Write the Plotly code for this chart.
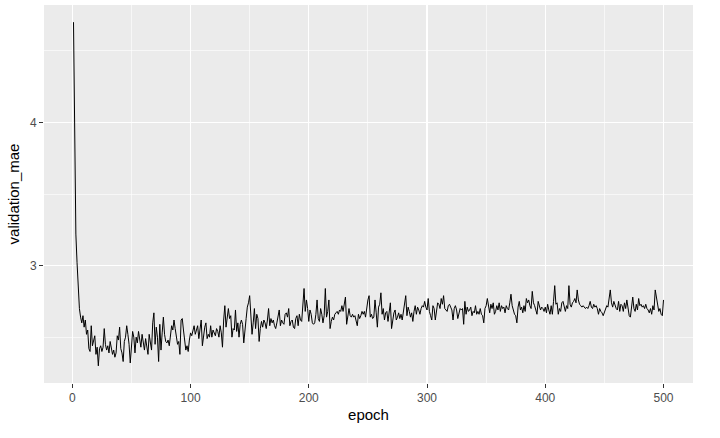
import plotly.graph_objects as go

# validation MAE per epoch
mae_001_080 = [
    4.70, 4.00, 3.22, 3.02, 2.80, 2.70, 2.64, 2.60, 2.65, 2.57,
    2.62, 2.52, 2.55, 2.42, 2.40, 2.58, 2.44, 2.48, 2.51, 2.38,
    2.43, 2.30, 2.42, 2.44, 2.40, 2.43, 2.56, 2.45, 2.41, 2.44,
    2.39, 2.47, 2.42, 2.38, 2.41, 2.36, 2.39, 2.51, 2.48, 2.57,
    2.42, 2.39, 2.33, 2.47, 2.50, 2.58, 2.52, 2.45, 2.32, 2.47,
    2.54, 2.50, 2.39, 2.50, 2.46, 2.54, 2.49, 2.43, 2.52, 2.46,
    2.41, 2.49, 2.44, 2.38, 2.52, 2.45, 2.41, 2.60, 2.67, 2.45,
    2.57, 2.50, 2.33, 2.59, 2.41, 2.53, 2.64, 2.52, 2.47, 2.46,
]
mae_081_164 = [
    2.48, 2.44, 2.50, 2.58, 2.55, 2.62, 2.56, 2.50, 2.45, 2.47,
    2.38, 2.62, 2.63, 2.55, 2.49, 2.41, 2.44, 2.40, 2.48, 2.53,
    2.51, 2.55, 2.58, 2.52, 2.56, 2.58, 2.49, 2.55, 2.62, 2.44,
    2.53, 2.57, 2.60, 2.49, 2.52, 2.50, 2.58, 2.50, 2.55, 2.53,
    2.51, 2.56, 2.54, 2.50, 2.58, 2.53, 2.43, 2.62, 2.72, 2.57,
    2.65, 2.70, 2.63, 2.65, 2.50, 2.56, 2.55, 2.69, 2.54, 2.60,
    2.50, 2.59, 2.62, 2.59, 2.46, 2.58, 2.63, 2.71, 2.74, 2.79,
    2.68, 2.52, 2.60, 2.70, 2.56, 2.66, 2.63, 2.47, 2.56, 2.61,
    2.57, 2.62, 2.60, 2.56,
]
mae_165_248 = [
    2.62, 2.70, 2.58, 2.63, 2.60, 2.62, 2.58, 2.56, 2.60, 2.66,
    2.69, 2.58, 2.62, 2.60, 2.59, 2.66, 2.67, 2.64, 2.70, 2.58,
    2.61, 2.62, 2.57, 2.56, 2.63, 2.65, 2.58, 2.66, 2.62, 2.61,
    2.72, 2.84, 2.68, 2.76, 2.70, 2.61, 2.69, 2.66, 2.60, 2.59,
    2.60, 2.66, 2.76, 2.63, 2.61, 2.70, 2.66, 2.60, 2.65, 2.84,
    2.64, 2.68, 2.76, 2.56, 2.61, 2.64, 2.62, 2.66, 2.67, 2.68,
    2.66, 2.69, 2.68, 2.72, 2.68, 2.72, 2.78, 2.59, 2.66, 2.70,
    2.65, 2.64, 2.66, 2.64, 2.65, 2.62, 2.58, 2.66, 2.63, 2.65,
    2.68, 2.66, 2.68, 2.64,
]
mae_249_330 = [
    2.72, 2.76, 2.79, 2.64, 2.66, 2.63, 2.64, 2.76, 2.67, 2.57,
    2.71, 2.73, 2.81, 2.66, 2.70, 2.62, 2.67, 2.68, 2.61, 2.66,
    2.74, 2.56, 2.62, 2.67, 2.69, 2.62, 2.64, 2.67, 2.63, 2.66,
    2.62, 2.67, 2.72, 2.79, 2.65, 2.71, 2.68, 2.64, 2.67, 2.61,
    2.68, 2.72, 2.66, 2.71, 2.69, 2.66, 2.70, 2.72, 2.71, 2.75,
    2.71, 2.69, 2.77, 2.68, 2.65, 2.62, 2.72, 2.70, 2.62, 2.68,
    2.74, 2.73, 2.70, 2.77, 2.73, 2.79, 2.70, 2.69, 2.68, 2.72,
    2.73, 2.71, 2.69, 2.62, 2.70, 2.72, 2.69, 2.63, 2.67, 2.70,
    2.69, 2.70,
]
mae_331_412 = [
    2.59, 2.75, 2.66, 2.71, 2.68, 2.69, 2.71, 2.65, 2.68, 2.67,
    2.72, 2.66, 2.68, 2.66, 2.70, 2.66, 2.65, 2.60, 2.70, 2.72,
    2.77, 2.70, 2.67, 2.73, 2.70, 2.74, 2.66, 2.68, 2.72, 2.69,
    2.74, 2.68, 2.72, 2.70, 2.71, 2.67, 2.72, 2.70, 2.69, 2.74,
    2.80, 2.72, 2.68, 2.66, 2.65, 2.60, 2.71, 2.75, 2.69, 2.71,
    2.67, 2.72, 2.68, 2.77, 2.74, 2.76, 2.72, 2.70, 2.82, 2.74,
    2.72, 2.69, 2.66, 2.75, 2.72, 2.69, 2.71, 2.70, 2.68, 2.71,
    2.67, 2.73, 2.69, 2.66, 2.72, 2.66, 2.75, 2.86, 2.73, 2.74,
    2.66, 2.70,
]
mae_413_500 = [
    2.68, 2.74, 2.75, 2.70, 2.68, 2.72, 2.70, 2.86, 2.73, 2.71,
    2.74, 2.75, 2.77, 2.74, 2.83, 2.76, 2.73, 2.72, 2.71, 2.72,
    2.71, 2.70, 2.71, 2.70, 2.72, 2.75, 2.71, 2.70, 2.73, 2.71,
    2.72, 2.70, 2.66, 2.70, 2.68, 2.67, 2.65, 2.67, 2.70, 2.72,
    2.71, 2.76, 2.83, 2.74, 2.71, 2.75, 2.72, 2.70, 2.69, 2.75,
    2.68, 2.73, 2.72, 2.68, 2.74, 2.70, 2.76, 2.68, 2.65, 2.64,
    2.73, 2.78, 2.70, 2.68, 2.73, 2.69, 2.77, 2.72, 2.73, 2.71,
    2.72, 2.70, 2.73, 2.70, 2.69, 2.67, 2.70, 2.66, 2.72, 2.69,
    2.83, 2.78, 2.72, 2.68, 2.70, 2.66, 2.65, 2.76,
]

validation_mae = (mae_001_080 + mae_081_164 + mae_165_248
                  + mae_249_330 + mae_331_412 + mae_413_500)
epoch = list(range(1, len(validation_mae) + 1))

x_ticks = [0, 100, 200, 300, 400, 500]
x_minor = [50, 150, 250, 350, 450]
y_ticks = [3, 4]
y_minor = [2.5, 3.5, 4.5]

# ggplot-like 5% expansion of the data range
xmin, xmax = min(epoch), max(epoch)
ymin, ymax = min(validation_mae), max(validation_mae)
xpad = (xmax - xmin) * 0.05
ypad = (ymax - ymin) * 0.05

FONT = "Liberation Sans, Arial, sans-serif"

fig = go.Figure()
fig.add_trace(go.Scatter(
    x=epoch, y=validation_mae, mode="lines",
    line=dict(color="black", width=1), showlegend=False,
    hoverinfo="skip",
))

axis_common = dict(
    automargin=False,
    showline=False, zeroline=False,
    showgrid=True, gridcolor="white", gridwidth=1.1,
    ticks="outside", ticklen=4, tickwidth=1, tickcolor="#333333",
    tickfont=dict(family=FONT, size=12, color="#4D4D4D"),
)

fig.update_xaxes(
    **axis_common,
    range=[xmin - xpad, xmax + xpad],
    tickvals=x_ticks, ticktext=[str(v) for v in x_ticks],
    minor=dict(tickvals=x_minor, showgrid=True,
               gridcolor="white", gridwidth=0.6, ticks=""),
    title=dict(text="epoch", standoff=5,
               font=dict(family=FONT, size=15, color="black")),
)
fig.update_yaxes(
    **axis_common,
    range=[ymin - ypad, ymax + ypad],
    tickvals=y_ticks, ticktext=[str(v) for v in y_ticks],
    minor=dict(tickvals=y_minor, showgrid=True,
               gridcolor="white", gridwidth=0.6, ticks=""),
    title=dict(text="validation_mae", standoff=6,
               font=dict(family=FONT, size=15, color="black")),
)

fig.update_layout(
    width=720, height=438,
    margin=dict(l=44, r=27, t=5, b=55, pad=0),
    paper_bgcolor="white", plot_bgcolor="#EBEBEB",
    font=dict(family=FONT),
    hovermode=False,
)

fig.write_html(
    "out.html",
    config={"displayModeBar": False, "staticPlot": True},
    post_script="document.body.style.margin='0';document.body.style.overflow='hidden';",
)
